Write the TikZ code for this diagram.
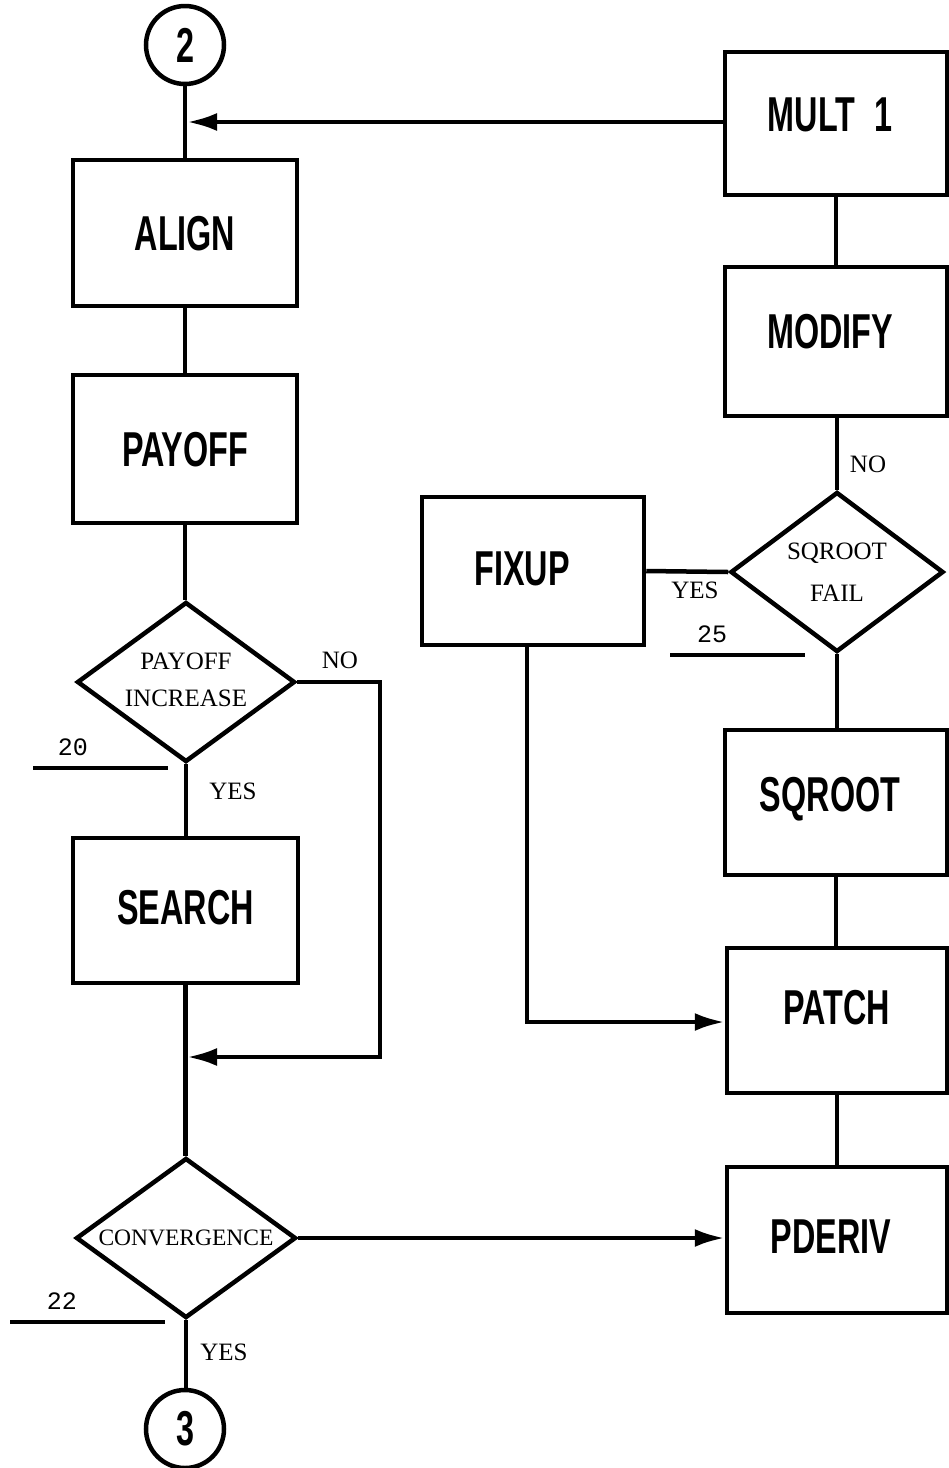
\documentclass[tikz,border=0pt]{standalone}
\usepackage{fontspec}
\setmainfont{Liberation Serif}
\newfontfamily\boxfont[FakeStretch=0.66]{Liberation Sans}
\newfontfamily\numfont{Liberation Mono}
\usetikzlibrary{shapes.geometric,arrows.meta}
\tikzset{
  box/.style={draw, line width=4.5pt, minimum width=222pt, minimum height=146pt, inner sep=0pt,
    font=\boxfont\bfseries\fontsize{49}{55}\selectfont, text height=35pt, text depth=0pt},
  up/.style={text depth=#1},
  conn/.style={draw, line width=4.5pt, minimum size=78pt, circle, inner sep=0pt,
    font=\boxfont\bfseries\fontsize{49}{55}\selectfont},
  dec/.style={draw, diamond, line width=4.5pt, aspect=1.36, minimum width=218pt, minimum height=160pt, inner sep=0pt,
    font=\fontsize{25}{30}\selectfont, align=center},
  wire/.style={line width=4.5pt, line join=miter},
  arr/.style={line width=4.5pt, line join=miter, -{Latex[length=30pt,width=18pt]}},
  lbl/.style={font=\fontsize{25}{30}\selectfont, inner sep=0pt},
  num/.style={font=\numfont\fontsize{25}{30}\selectfont, inner sep=0pt},
  uline/.style={line width=4pt}
}
\begin{document}
\begin{tikzpicture}[x=1pt,y=-1pt]
\useasboundingbox (0,0) rectangle (949,1468);
% left column
\node[conn] (c2) at (185,45) {2};
\node[box, minimum width=224pt] (align) at (185,233) {ALIGN};
\node[box, minimum width=224pt, minimum height=148pt] (payoff) at (185,449) {PAYOFF};
\node[dec] (d1) at (186,682) {\raisebox{13pt}{\begin{tabular}{@{}c@{}}PAYOFF\\[7pt]INCREASE\end{tabular}}};
\node[box, minimum width=225pt, minimum height=145pt, up=8pt] (search) at (185.5,910.5) {SEARCH};
\node[dec, aspect=1.375, minimum width=220pt] (d2) at (186,1238) {\fontsize{23.5}{28}\selectfont CONVERGENCE};
\node[conn] (c3) at (185,1429) {3};
% right column
\node[box, minimum height=143pt, up=20pt] (mult) at (836,123.5) {MULT\hspace{10pt} 1\hspace*{12pt}};
\node[box, minimum height=149pt, up=22pt] (modify) at (836,341.5) {MODIFY\hspace*{12pt}};
\node[dec, aspect=1.33, minimum width=213pt] (d3) at (837,572) {SQROOT\\[12pt]FAIL};
\node[box, minimum height=148pt, up=6pt] (fixup) at (533,571) {FIXUP\hspace*{22pt}};
\node[box, minimum height=145pt, up=18pt] (sqroot) at (836,802.5) {SQROOT\hspace*{12pt}};
\node[box, minimum width=220pt, minimum height=145pt, up=28pt] (patch) at (837,1020.5) {PATCH};
\node[box, minimum width=220pt, minimum height=146pt, up=8pt] (pderiv) at (837,1240) {PDERIV\hspace*{12pt}};
% helper coordinates
\coordinate (j1) at (186,122);
\coordinate (noa) at (380,682);
\coordinate (nob) at (380,1057);
\coordinate (j2) at (187,1057);
% connectors left
\draw[wire] (c2.south) -- (align.north);
\draw[arr] (mult.west |- j1) -- ([xshift=1pt]j1);
\draw[wire] (align.south) -- (payoff.north);
\draw[wire] (payoff.south) -- (payoff.south |- d1.north);
\draw[wire] (d1.south) -- (d1.south |- search.north);
\draw[wire] (search.south) -- (search.south |- d2.north);
\draw[wire] (d2.south) -- (d2.south |- c3.north);
\draw[arr] (d1.east) -- (noa) -- (nob) -- (j2);
\draw[arr] (d2.east) -- (pderiv.west |- d2.east);
% connectors right
\draw[wire] (mult.south) -- (modify.north);
\draw[wire] (modify.south -| d3.north) -- (d3.north);
\draw[wire] (fixup.east) -- (d3.west);
\draw[wire] (d3.south) -- (sqroot.north -| d3.south);
\draw[wire] (sqroot.south) -- (patch.north -| sqroot.south);
\draw[wire] (patch.south) -- (pderiv.north);
\coordinate (fx) at (527,1022);
\draw[arr] (fixup.south -| fx) -- (fx) -- (patch.west |- fx);
% labels
\node[lbl] (lno1) at (340,660) {NO};
\node[lbl] (lyes1) at (233,791) {YES};
\node[num] (n20) at (73,747) {20};
\draw[uline] (33,768) -- (168,768);
\node[lbl] (lyes2) at (224,1352) {YES};
\node[num] (n22) at (62,1301) {22};
\draw[uline] (10,1322) -- (165,1322);
\node[lbl] (lno2) at (868,464) {NO};
\node[lbl] (lyes3) at (695,590) {YES};
\node[num] (n25) at (712,634) {25};
\draw[uline] (670,655) -- (805,655);
\end{tikzpicture}
\end{document}
